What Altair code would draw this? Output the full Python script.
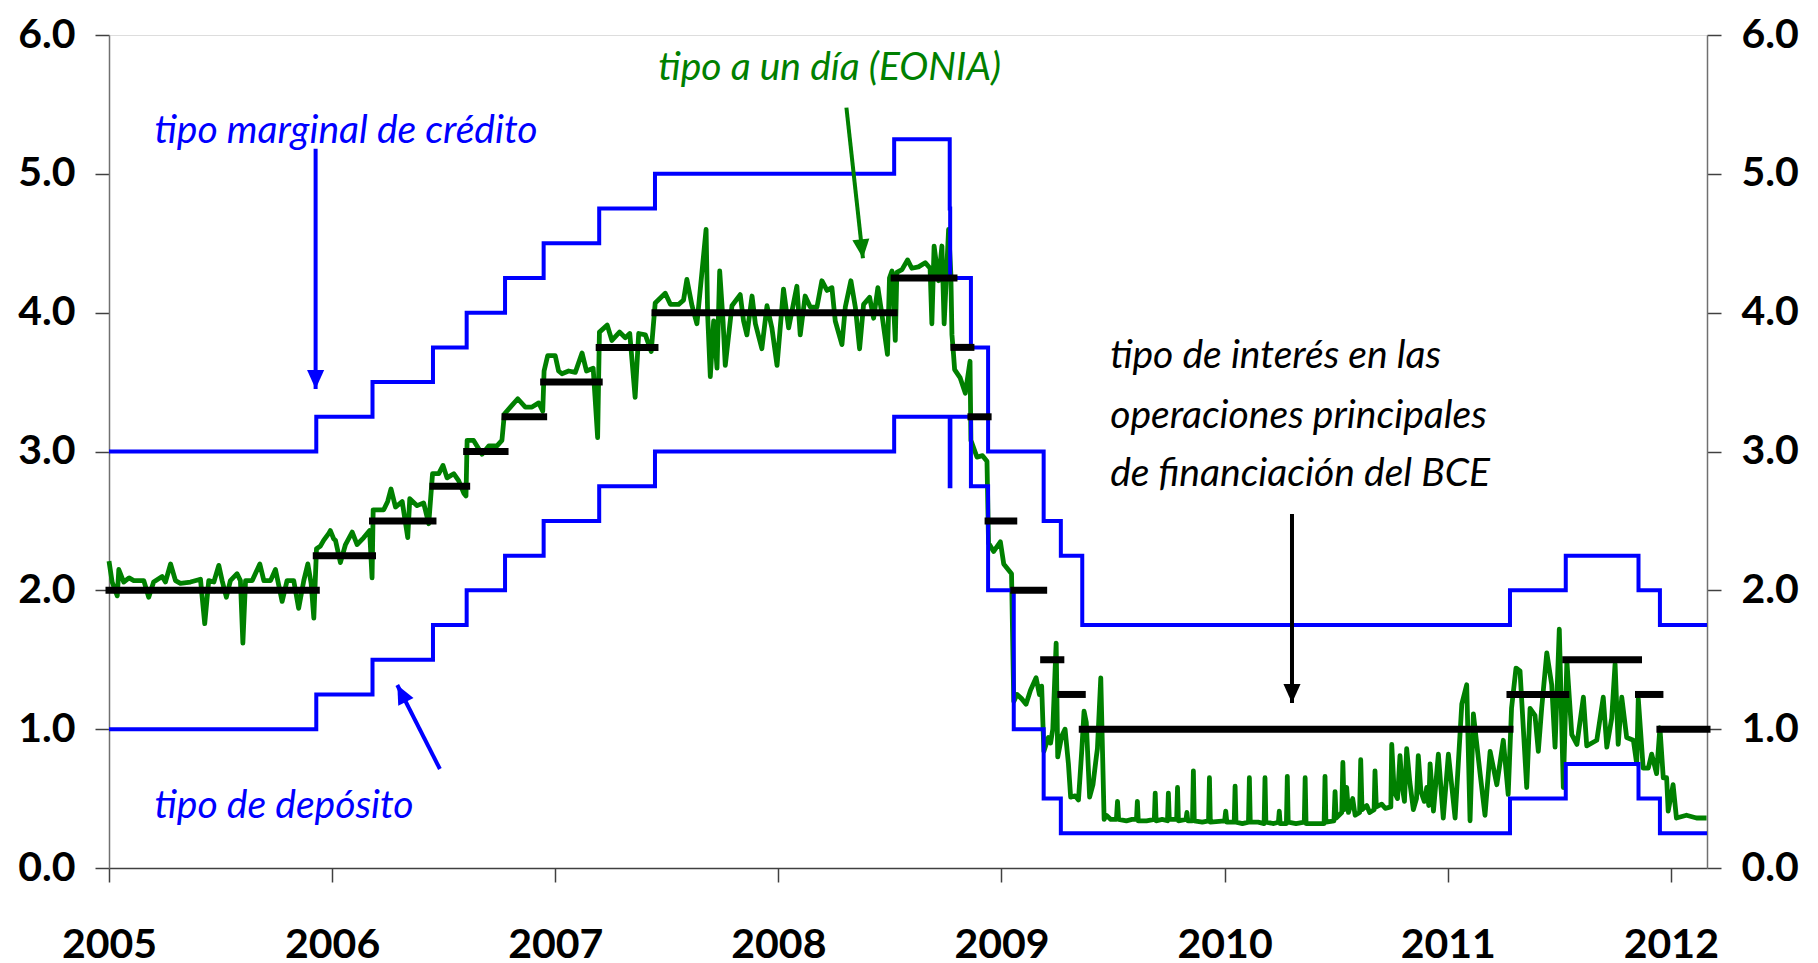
import altair as alt
import pandas as pd

# ---------------- data (decimal years) ----------------
mlf_year = [2005.0, 2005.929, 2006.181, 2006.452, 2006.603, 2006.775, 2006.948, 2007.197, 2007.447,
            2008.519, 2008.768, 2008.770, 2008.863, 2008.940, 2009.189, 2009.266, 2009.362,
            2011.279, 2011.529, 2011.855, 2011.951, 2012.162]
mlf_rate = [3.00, 3.25, 3.50, 3.75, 4.00, 4.25, 4.50, 4.75, 5.00,
            5.25, 4.75, 4.25, 3.75, 3.00, 2.50, 2.25, 1.75,
            2.00, 2.25, 2.00, 1.75, 1.75]

dep_year = [2005.0, 2005.929, 2006.181, 2006.452, 2006.603, 2006.775, 2006.948, 2007.197, 2007.447,
            2008.519, 2008.768, 2008.771, 2008.863, 2008.940, 2009.055, 2009.189, 2009.266,
            2011.279, 2011.529, 2011.855, 2011.951, 2012.162]
dep_rate = [1.00, 1.25, 1.50, 1.75, 2.00, 2.25, 2.50, 2.75, 3.00,
            3.25, 2.75, 3.25, 2.75, 2.00, 1.00, 0.50, 0.25,
            0.50, 0.75, 0.50, 0.25, 0.25]

mro_start = [2005.0, 2005.929, 2006.181, 2006.452, 2006.603, 2006.775, 2006.948, 2007.197, 2007.447,
             2008.519, 2008.787, 2008.863, 2008.940, 2009.055, 2009.189, 2009.266, 2009.362,
             2011.279, 2011.529, 2011.855, 2011.951]
mro_end = [2005.929, 2006.181, 2006.452, 2006.603, 2006.775, 2006.948, 2007.197, 2007.447, 2008.519,
           2008.787, 2008.863, 2008.940, 2009.055, 2009.189, 2009.266, 2009.362, 2011.279,
           2011.529, 2011.855, 2011.951, 2012.162]
mro_rate = [2.00, 2.25, 2.50, 2.75, 3.00, 3.25, 3.50, 3.75, 4.00,
            4.25, 3.75, 3.25, 2.50, 2.00, 1.50, 1.25, 1.00,
            1.25, 1.50, 1.25, 1.00]

eonia_year = [
    2005.000, 2005.014, 2005.037, 2005.044, 2005.066, 2005.090, 2005.111, 2005.156, 2005.178, 2005.200,
    2005.238, 2005.253, 2005.276, 2005.298, 2005.320, 2005.365, 2005.410, 2005.429, 2005.447, 2005.470,
    2005.492, 2005.507, 2005.526, 2005.544, 2005.574, 2005.589, 2005.600, 2005.612, 2005.642, 2005.676,
    2005.694, 2005.724, 2005.746, 2005.776, 2005.798, 2005.828, 2005.850, 2005.873, 2005.891, 2005.906,
    2005.918, 2005.930, 2005.948, 2005.962, 2005.985, 2005.992, 2006.007, 2006.015, 2006.037, 2006.060,
    2006.090, 2006.112, 2006.142, 2006.168, 2006.179, 2006.184, 2006.231, 2006.249, 2006.264, 2006.284,
    2006.314, 2006.339, 2006.348, 2006.381, 2006.410, 2006.433, 2006.450, 2006.478, 2006.497, 2006.515,
    2006.545, 2006.567, 2006.590, 2006.600, 2006.605, 2006.634, 2006.672, 2006.702, 2006.739, 2006.761,
    2006.772, 2006.799, 2006.832, 2006.866, 2006.896, 2006.926, 2006.944, 2006.950, 2006.966, 2007.000,
    2007.015, 2007.030, 2007.060, 2007.090, 2007.120, 2007.140, 2007.170, 2007.190, 2007.198, 2007.233,
    2007.254, 2007.288, 2007.314, 2007.334, 2007.358, 2007.374, 2007.404, 2007.430, 2007.448, 2007.493,
    2007.516, 2007.553, 2007.575, 2007.590, 2007.613, 2007.635, 2007.658, 2007.676, 2007.683, 2007.695,
    2007.710, 2007.725, 2007.737, 2007.752, 2007.762, 2007.792, 2007.829, 2007.844, 2007.859, 2007.882,
    2007.897, 2007.926, 2007.949, 2007.971, 2007.994, 2008.023, 2008.046, 2008.083, 2008.098, 2008.120,
    2008.143, 2008.173, 2008.195, 2008.218, 2008.240, 2008.255, 2008.285, 2008.300, 2008.325, 2008.345,
    2008.364, 2008.382, 2008.409, 2008.427, 2008.446, 2008.464, 2008.489, 2008.498, 2008.509, 2008.524,
    2008.531, 2008.554, 2008.579, 2008.598, 2008.628, 2008.658, 2008.680, 2008.688, 2008.698, 2008.718,
    2008.733, 2008.743, 2008.763, 2008.773, 2008.778, 2008.785, 2008.790, 2008.815, 2008.838, 2008.859,
    2008.863, 2008.890, 2008.915, 2008.935, 2008.942, 2008.965, 2008.995, 2009.010, 2009.045, 2009.055,
    2009.070, 2009.090, 2009.110, 2009.130, 2009.155, 2009.170, 2009.180, 2009.190, 2009.210, 2009.220,
    2009.230, 2009.245, 2009.252, 2009.270, 2009.285, 2009.300, 2009.310, 2009.330, 2009.345, 2009.360,
    2009.370, 2009.380, 2009.395, 2009.410, 2009.425, 2009.430, 2009.445, 2009.460, 2009.470, 2009.490,
    2009.515, 2009.520, 2009.525, 2009.560, 2009.585, 2009.605, 2009.609, 2009.613, 2009.650, 2009.685,
    2009.689, 2009.693, 2009.720, 2009.744, 2009.748, 2009.752, 2009.785, 2009.789, 2009.793, 2009.827,
    2009.831, 2009.835, 2009.856, 2009.860, 2009.864, 2009.900, 2009.928, 2009.932, 2009.936, 2010.000,
    2010.005, 2010.010, 2010.043, 2010.047, 2010.051, 2010.080, 2010.107, 2010.111, 2010.115, 2010.150,
    2010.177, 2010.181, 2010.185, 2010.220, 2010.241, 2010.245, 2010.249, 2010.277, 2010.281, 2010.285,
    2010.320, 2010.357, 2010.361, 2010.365, 2010.400, 2010.446, 2010.450, 2010.454, 2010.490, 2010.495,
    2010.500, 2010.525, 2010.530, 2010.536, 2010.547, 2010.555, 2010.574, 2010.585, 2010.605, 2010.610,
    2010.616, 2010.637, 2010.650, 2010.670, 2010.674, 2010.680, 2010.704, 2010.720, 2010.745, 2010.749,
    2010.760, 2010.775, 2010.786, 2010.795, 2010.806, 2010.816, 2010.830, 2010.846, 2010.860, 2010.868,
    2010.880, 2010.895, 2010.906, 2010.915, 2010.921, 2010.936, 2010.958, 2010.980, 2011.003, 2011.033,
    2011.063, 2011.085, 2011.100, 2011.115, 2011.145, 2011.167, 2011.190, 2011.220, 2011.249, 2011.271,
    2011.286, 2011.306, 2011.324, 2011.354, 2011.369, 2011.391, 2011.406, 2011.421, 2011.444, 2011.466,
    2011.481, 2011.500, 2011.518, 2011.534, 2011.556, 2011.579, 2011.608, 2011.623, 2011.668, 2011.697,
    2011.713, 2011.735, 2011.750, 2011.764, 2011.780, 2011.802, 2011.832, 2011.847, 2011.854, 2011.876,
    2011.899, 2011.914, 2011.936, 2011.951, 2011.966, 2011.981, 2011.988, 2012.010, 2012.025, 2012.070,
    2012.115, 2012.160,
]
eonia_rate = [
    2.21, 2.06, 1.96, 2.15, 2.06, 2.09, 2.07, 2.07, 1.95, 2.06,
    2.10, 2.06, 2.19, 2.07, 2.05, 2.06, 2.08, 1.76, 2.07, 2.06,
    2.18, 2.07, 1.95, 2.07, 2.12, 2.07, 1.62, 2.07, 2.07, 2.19,
    2.07, 2.07, 2.15, 1.92, 2.07, 2.07, 1.87, 2.07, 2.19, 2.05,
    1.80, 2.30, 2.32, 2.36, 2.41, 2.43, 2.37, 2.36, 2.20, 2.33,
    2.42, 2.33, 2.38, 2.43, 2.09, 2.58, 2.58, 2.64, 2.73, 2.60,
    2.64, 2.38, 2.66, 2.61, 2.63, 2.48, 2.84, 2.84, 2.90, 2.81,
    2.84, 2.79, 2.70, 2.68, 3.08, 3.08, 2.98, 3.04, 3.04, 3.08,
    3.27, 3.32, 3.38, 3.32, 3.32, 3.35, 3.29, 3.58, 3.69, 3.69,
    3.58, 3.56, 3.58, 3.57, 3.71, 3.58, 3.60, 3.10, 3.86, 3.91,
    3.80, 3.86, 3.82, 3.85, 3.39, 3.85, 3.84, 3.72, 4.07, 4.14,
    4.06, 4.06, 4.09, 4.24, 4.05, 3.92, 4.30, 4.60, 3.99, 3.54,
    3.94, 3.60, 4.30, 3.94, 3.62, 4.05, 4.13, 3.94, 3.84, 4.12,
    3.92, 3.74, 4.05, 3.89, 3.62, 4.17, 3.89, 4.19, 3.84, 4.12,
    4.04, 4.04, 4.23, 4.16, 4.18, 3.94, 3.77, 4.04, 4.23, 4.04,
    3.74, 4.06, 4.11, 3.96, 4.18, 3.99, 3.70, 4.25, 4.30, 3.80,
    4.29, 4.31, 4.38, 4.32, 4.33, 4.36, 4.32, 3.92, 4.48, 4.23,
    4.48, 3.92, 4.60, 4.28, 3.84, 3.70, 3.59, 3.53, 3.42, 3.65,
    3.08, 2.96, 2.97, 2.93, 2.34, 2.28, 2.35, 2.19, 2.12, 1.20,
    1.25, 1.22, 1.18, 1.28, 1.37, 1.25, 1.31, 0.84, 0.94, 0.90,
    1.00, 1.62, 0.80, 0.95, 1.00, 0.75, 0.51, 0.52, 0.49, 0.85,
    1.13, 1.05, 0.51, 0.60, 0.80, 0.86, 1.37, 0.35, 0.38, 0.35,
    0.35, 0.48, 0.35, 0.34, 0.35, 0.35, 0.48, 0.34, 0.34, 0.35,
    0.54, 0.34, 0.35, 0.34, 0.54, 0.35, 0.35, 0.58, 0.34, 0.35,
    0.40, 0.34, 0.34, 0.70, 0.34, 0.33, 0.34, 0.65, 0.33, 0.34,
    0.41, 0.33, 0.33, 0.59, 0.33, 0.32, 0.33, 0.65, 0.33, 0.33,
    0.32, 0.65, 0.33, 0.32, 0.33, 0.41, 0.32, 0.32, 0.66, 0.33,
    0.32, 0.33, 0.65, 0.32, 0.32, 0.32, 0.66, 0.33, 0.34, 0.55,
    0.36, 0.40, 0.76, 0.42, 0.58, 0.40, 0.50, 0.38, 0.40, 0.78,
    0.42, 0.45, 0.40, 0.42, 0.70, 0.44, 0.46, 0.43, 0.44, 0.89,
    0.55, 0.50, 0.81, 0.60, 0.48, 0.86, 0.62, 0.42, 0.50, 0.81,
    0.55, 0.48, 0.58, 0.45, 0.75, 0.41, 0.82, 0.36, 0.82, 0.36,
    1.18, 1.32, 0.34, 1.11, 0.68, 0.38, 0.84, 0.60, 0.92, 0.53,
    1.15, 1.44, 1.42, 0.58, 1.15, 1.10, 0.84, 1.15, 1.55, 1.32,
    0.87, 1.72, 0.58, 1.49, 0.96, 0.89, 1.23, 0.88, 0.92, 1.23,
    0.87, 1.08, 1.47, 0.89, 1.23, 0.94, 0.92, 0.75, 1.22, 0.72,
    0.72, 0.82, 0.68, 1.01, 0.65, 0.65, 0.41, 0.60, 0.36, 0.38,
    0.36, 0.36,
]

year_ticks = [2005, 2006, 2007, 2008, 2009, 2010, 2011, 2012]
rate_ticks = [0, 1, 2, 3, 4, 5, 6]

# annotation texts
label_text = ["tipo marginal de crédito", "tipo a un día (EONIA)", "tipo de depósito",
              "tipo de interés en las", "operaciones principales", "de financiación del BCE"]
label_year = [2005.204, 2007.462, 2005.204, 2009.487, 2009.487, 2009.487]
label_rate = [5.223, 5.676, 0.362, 3.604, 3.172, 2.752]
label_color = ["#0000FF", "#008000", "#0000FF", "#000000", "#000000", "#000000"]

# arrows
arrow_x1 = [2005.926, 2006.483, 2008.305, 2010.302]
arrow_y1 = [5.18, 0.713, 5.477, 2.55]
arrow_x2 = [2005.926, 2006.292, 2008.379, 2010.302]
arrow_y2 = [3.45, 1.318, 4.392, 1.189]
arrow_angle = [0, 153, 353.7, 0]
arrow_color = ["#0000FF", "#0000FF", "#008000", "#000000"]

# ---------------- tables ----------------
mlf = pd.DataFrame({"year": mlf_year, "rate": mlf_rate})
dep = pd.DataFrame({"year": dep_year, "rate": dep_rate})
mro = pd.DataFrame({"start": mro_start, "end": mro_end, "rate": mro_rate})
eonia = pd.DataFrame({"year": eonia_year, "rate": eonia_rate})
labels = pd.DataFrame({"t": label_text, "x": label_year, "y": label_rate, "c": label_color})
arrows = pd.DataFrame({"x1": arrow_x1, "y1": arrow_y1, "x2": arrow_x2, "y2": arrow_y2,
                       "a": arrow_angle, "c": arrow_color})

FONT = "Lato"
xscale = alt.Scale(domain=[2005, 2012.162], nice=False, zero=False)
yscale = alt.Scale(domain=[0, 6], nice=False)

x_axis = alt.Axis(values=year_ticks, format="d", title=None, grid=False, orient="bottom",
                  labelFontSize=41, labelFont=FONT, labelFontWeight="bold", labelColor="black",
                  tickSize=14, labelPadding=43, domainColor="#404040", tickColor="#404040",
                  domainWidth=1.5, tickWidth=1.5, labelFlush=False)

def y_axis(orient):
    return alt.Axis(values=rate_ticks, format=".1f", title=None, grid=False, orient=orient,
                    labelFontSize=41, labelFont=FONT, labelFontWeight="bold", labelColor="black",
                    tickSize=14, labelPadding=20, domainColor="#707070", tickColor="#404040",
                    domainWidth=1.5, tickWidth=1.5)

def X(f):
    return alt.X(f, type="quantitative", scale=xscale, axis=x_axis)

green = alt.Chart(eonia).mark_line(color="#008000", strokeWidth=4.8, strokeJoin="round").encode(
    x=X("year"),
    y=alt.Y("rate:Q", scale=yscale, axis=y_axis("left")),
    order="year:Q",
)

blue_up = alt.Chart(mlf).mark_line(color="#0000FF", strokeWidth=4, interpolate="step-after").encode(
    x=X("year"), y=alt.Y("rate:Q", scale=yscale, axis=y_axis("right")), order="year:Q")

blue_dn = alt.Chart(dep).mark_line(color="#0000FF", strokeWidth=4, interpolate="step-after").encode(
    x=X("year"), y=alt.Y("rate:Q", scale=yscale, axis=None), order="year:Q")

black = alt.Chart(mro).mark_rule(color="black", strokeWidth=7, strokeCap="square").encode(
    x=X("start"), x2="end", y=alt.Y("rate:Q", scale=yscale, axis=None))

shafts = alt.Chart(arrows).mark_rule(strokeWidth=4).encode(
    x=X("x1"), x2="x2", y=alt.Y("y1:Q", scale=yscale, axis=None), y2="y2",
    color=alt.Color("c:N", scale=None))

heads = alt.Chart(arrows).mark_point(shape="M0,0L-0.45,-1L0.45,-1Z", size=1444, filled=True,
                                     opacity=1, strokeWidth=0).encode(
    x=X("x2"), y=alt.Y("y2:Q", scale=yscale, axis=None),
    angle=alt.Angle("a:Q", scale=None),
    color=alt.Color("c:N", scale=None))

texts = alt.Chart(labels).mark_text(font=FONT, fontSize=39, fontStyle="italic", align="left",
                                    baseline="alphabetic").encode(
    x=X("x"), y=alt.Y("y:Q", scale=yscale, axis=None), text="t:N",
    color=alt.Color("c:N", scale=None))

chart = alt.layer(green, blue_up, blue_dn, black, shafts, heads, texts).resolve_axis(
    y="independent"
).properties(
    width=1598, height=833, padding={"left": 9, "top": 6, "right": 5, "bottom": 5}
).configure_view(stroke=None).configure(background="white")

chart.save("out.html", embed_options={"renderer": "svg", "actions": False})
